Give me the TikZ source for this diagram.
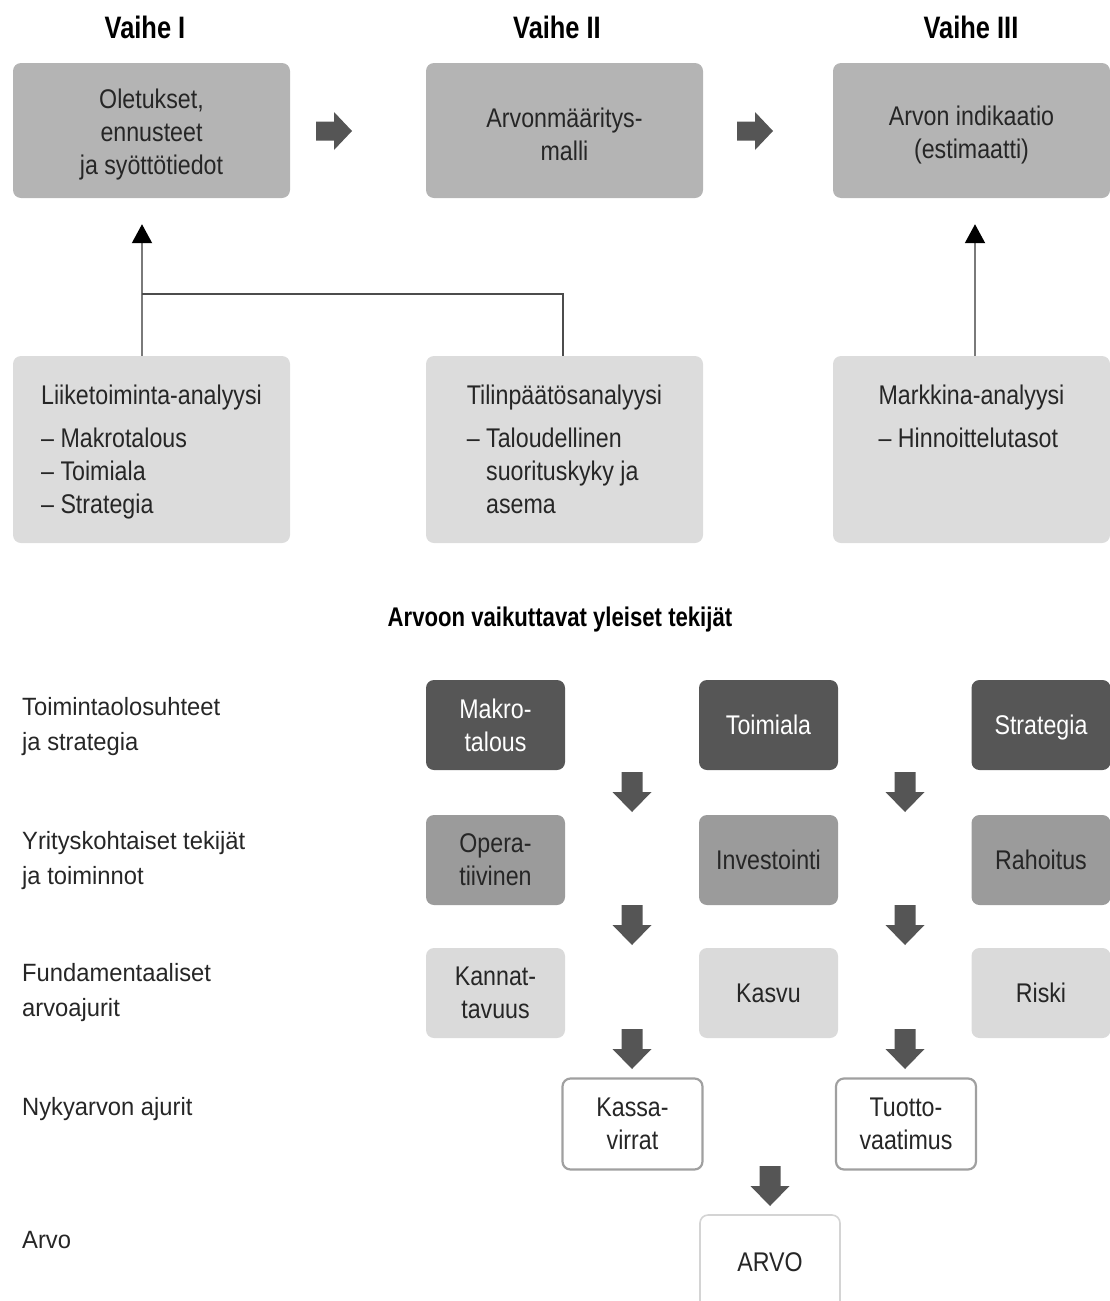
\documentclass[tikz,border=0pt]{standalone}
\usepackage{fontspec}
\setmainfont{Liberation Sans}
\newfontfamily\narrowf{Liberation Sans}[FakeStretch=0.86]
\newfontfamily\narrowbf{Liberation Sans Bold}[FakeStretch=0.82]
\newfontfamily\labelf{Liberation Sans}[FakeStretch=0.95]
\usetikzlibrary{arrows.meta}

\definecolor{topgray}{HTML}{B4B4B4}
\definecolor{anagray}{HTML}{DCDCDC}
\definecolor{darkbox}{HTML}{565656}
\definecolor{midbox}{HTML}{9B9B9B}
\definecolor{lightbox}{HTML}{DADADA}
\definecolor{blockgray}{HTML}{555555}
\definecolor{txt}{HTML}{262626}
\definecolor{linegray}{HTML}{7A7A7A}
\definecolor{rimgray}{HTML}{A0A0A0}
\definecolor{faintrim}{HTML}{D4D4D4}

% first-line strut that pushes phase-box text slightly down
\newcommand{\toplift}{\rule{0pt}{28pt}}
% drop the descender so a one-line label centres on its capitals
\newcommand{\nodepth}[1]{\raisebox{0pt}[\height][0pt]{#1}}

\begin{document}
\begin{tikzpicture}[x=1pt,y=-1pt,
  boxfont/.style={font=\narrowf\fontsize{27}{33}\selectfont},
  basebox/.style={rectangle, rounded corners=8pt, inner sep=0pt, align=center,
    text=txt, boxfont},
  phasebox/.style={basebox, fill=topgray, minimum width=277pt, minimum height=135pt},
  anabox/.style={basebox, fill=anagray, minimum width=277pt, minimum height=187pt},
  anatext/.style={inner sep=0pt, align=left, text=txt, anchor=north, boxfont},
  gridbox/.style={basebox, minimum width=139pt, minimum height=90pt},
  darkcell/.style={gridbox, fill=darkbox, text=white},
  midcell/.style={gridbox, fill=midbox},
  lightcell/.style={gridbox, fill=lightbox},
  outcell/.style={basebox, fill=white, draw=rimgray, line width=2.2pt,
    minimum width=140pt, minimum height=91pt},
  finalcell/.style={basebox, fill=white, draw=faintrim, line width=1.6pt,
    minimum width=140pt, minimum height=110pt},
  phasehead/.style={inner sep=0pt, text=black, font=\narrowbf\fontsize{31}{36}\selectfont},
  rowlabel/.style={inner sep=0pt, align=left, anchor=north west, text=txt,
    font=\labelf\fontsize{25}{35}\selectfont},
  feed/.style={draw=linegray, line width=2pt},
  feedtip/.style={feed, -{Triangle[width=20pt,length=19pt,color=black,fill=black]},
    shorten >=26pt},
  blockdown/.pic={\fill[blockgray] (-10.5,-20) -- (10.5,-20) -- (10.5,0) -- (19.5,0)
      -- (0,20) -- (-19.5,0) -- (-10.5,0) -- cycle;},
  blockright/.pic={\fill[blockgray] (-18,-9.5) -- (0,-9.5) -- (0,-19) -- (18,0)
      -- (0,19) -- (0,9.5) -- (-18,9.5) -- cycle;}
]
\useasboundingbox (0,0) rectangle (1110,1301);
\begin{scope}
\clip (0,0) rectangle (1110,1301);

% ---- three phases ----
\node[phasehead] (h1) at (145,27) {Vaihe I};
\node[phasehead] (h2) at (557,27) {Vaihe II};
\node[phasehead] (h3) at (971,27) {Vaihe III};

\node[phasebox] (p1) at (151.5,130.5) {\toplift Oletukset,\\ennusteet\\ja syöttötiedot};
\node[phasebox] (p2) at (564.5,130.5) {\toplift Arvonmääritys-\\malli};
\node[phasebox] (p3) at (971.5,130.5) {\toplift Arvon indikaatio\\(estimaatti)};

\pic at (334,131) {blockright};
\pic at (755,131) {blockright};

% ---- analyses feeding the phases ----
\node[anabox] (a1) at (151.5,449.5) {};
\node[anabox] (a2) at (564.5,449.5) {};
\node[anabox] (a3) at (971.5,449.5) {};

\node[anatext] (t1) at ([yshift=-29pt]a1.north)
  {Liiketoiminta-analyysi\\[10pt]– Makrotalous\\– Toimiala\\– Strategia};
\node[anatext] (t2) at ([yshift=-29pt]a2.north)
  {Tilinpäätösanalyysi\\[10pt]– Taloudellinen\\\phantom{– }suorituskyky ja\\\phantom{– }asema};
\node[anatext] (t3) at ([yshift=-29pt]a3.north)
  {Markkina-analyysi\\[10pt]– Hinnoittelutasot};

\coordinate (join) at (142,294);
\draw[feedtip] ([xshift=-9.5pt]a1.north) -- ([xshift=-9.5pt]p1.south);
\draw[feed, line width=1.6pt, draw=black!70] ([xshift=-1.5pt]a2.north) |- (join);
\draw[feedtip] ([xshift=3.5pt]a3.north) -- ([xshift=3.5pt]p3.south);

% ---- general value factors ----
\node[inner sep=0pt, anchor=base, text=black,
  font=\narrowbf\fontsize{27}{32}\selectfont] (ttl) at (560,626)
  {Arvoon vaikuttavat yleiset tekijät};

\node[rowlabel] (l1) at (22,697) {Toimintaolosuhteet\\ja strategia};
\node[rowlabel] (l2) at (22,831) {Yrityskohtaiset tekijät\\ja toiminnot};
\node[rowlabel] (l3) at (22,963) {Fundamentaaliset\\arvoajurit};
\node[rowlabel] (l4) at (22,1097) {Nykyarvon ajurit};
\node[rowlabel] (l5) at (22,1231) {Arvo};

\node[darkcell] (makro) at (495.5,725) {Makro-\\talous};
\node[darkcell] (toim) at (768.5,725) {Toimiala};
\node[darkcell] (strat) at (1041,725) {\nodepth{Strategia}};

\node[midcell] (oper) at (495.5,860) {Opera-\\tiivinen};
\node[midcell] (inv) at (768.5,860) {Investointi};
\node[midcell] (rah) at (1041,860) {Rahoitus};

\node[lightcell] (kann) at (495.5,993) {Kannat-\\tavuus};
\node[lightcell] (kasvu) at (768.5,993) {Kasvu};
\node[lightcell] (riski) at (1041,993) {Riski};

\node[outcell] (kassa) at (632.5,1124) {Kassa-\\virrat};
\node[outcell] (tuotto) at (906,1124) {Tuotto-\\vaatimus};

\node[finalcell] (arvo) at (770,1270) {};
\node[boxfont, text=txt, inner sep=0pt] (arvot) at (770,1262) {ARVO};

\pic at (632,792) {blockdown};
\pic at (905,792) {blockdown};
\pic at (632,925) {blockdown};
\pic at (905,925) {blockdown};
\pic at (632,1049) {blockdown};
\pic at (905,1049) {blockdown};
\pic at (770,1186) {blockdown};
\end{scope}
\end{tikzpicture}
\end{document}
